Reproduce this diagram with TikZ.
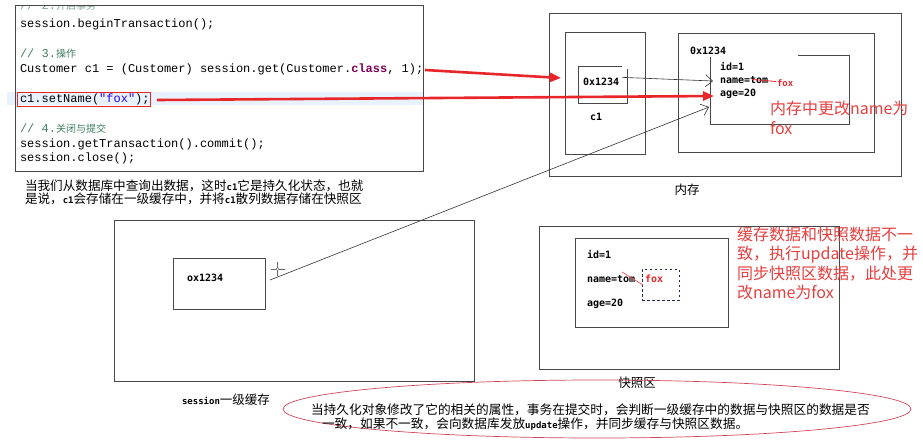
\documentclass[tikz,border=0pt]{standalone}
\usepackage{fontspec}
\setmainfont{Liberation Sans}
\setmonofont{Liberation Mono}
\newfontfamily\cjk{Noto Sans CJK SC}
\newfontfamily\pix{DejaVu Sans Mono}
\usetikzlibrary{arrows.meta}
\definecolor{boxgray}{HTML}{484848}
\definecolor{codered}{HTML}{E8262A}
\definecolor{notered}{HTML}{E5403F}
\definecolor{cmtgreen}{HTML}{3F7F5F}
\definecolor{kwpurple}{HTML}{7F0055}
\definecolor{strblue}{HTML}{2A00FF}
\definecolor{hlblue}{HTML}{E8F2FE}
\definecolor{ellred}{HTML}{D2465A}
\definecolor{dashnavy}{HTML}{1F2A5C}
\newcommand{\pixb}[1]{{\pix\bfseries\fontsize{9}{9}\selectfont #1}}
\begin{document}
\begin{tikzpicture}[x=1pt,y=-1pt,
  code/.style={anchor=base west, inner sep=0pt, outer sep=0pt, font=\ttfamily\fontsize{12}{14}\selectfont},
  pixtxt/.style={anchor=base west, inner sep=0pt, outer sep=0pt, font=\pix\bfseries\fontsize{10}{12}\selectfont},
  cjktxt/.style={anchor=base west, inner sep=0pt, outer sep=0pt, font=\cjk\fontsize{12.6}{13}\selectfont},
  note/.style={anchor=base west, inner sep=0pt, outer sep=0pt, text=notered, font=\cjk\fontsize{16}{20}\selectfont},
  frame/.style={draw=boxgray, line width=1pt, anchor=north west, inner sep=0pt, outer sep=0pt},
  openframe/.style={draw=boxgray, line width=1pt},
  bigarrow/.style={draw=codered, line width=2.6pt, -{Triangle[length=11pt,width=9pt]}},
  thinarrow/.style={draw=black!80, line width=0.6pt, -{Straight Barb[length=7pt,width=12pt]}}
]
\useasboundingbox (0,0) rectangle (923,440);
\fill[white] (0,0) rectangle (923,440);

% ---------- code panel ----------
\fill[hlblue] (7,92) rectangle (423,105);
\node (codebox) [frame, minimum width=408pt, minimum height=166pt] at (15,5) {};
\begin{scope}
\clip (15,6) rectangle (423,171);
\node[code, text=cmtgreen!70] (l0) at (20,9.5) {// 2.{\cjk\fontsize{10}{12}\selectfont 开启事务}};
\end{scope}
\node[code] (l1) at (20,27) {session.beginTransaction();};
\node[code, text=cmtgreen] (l2) at (20,57) {// 3.{\cjk\fontsize{10}{12}\selectfont 操作}};
\node[code] (l3) at (20,72) {Customer c1 = (Customer) session.get(Customer.{\bfseries\color{kwpurple}class}, 1);};
\node[code] (l4) at (20,102) {c1.setName(\textcolor{strblue}{"fox"});};
\node[code, text=cmtgreen] (l5) at (20,132) {// 4.{\cjk\fontsize{10}{12}\selectfont 关闭与提交}};
\node[code] (l6) at (20,147) {session.getTransaction().commit();};
\node[code] (l7) at (20,161) {session.close();};
\node (setbox) [draw=codered, line width=0.8pt, anchor=north west, inner sep=0pt, outer sep=0pt, minimum width=133pt, minimum height=14pt] at (17,92) {};

\node[cjktxt] (d1) at (25,190.5) {当我们从数据库中查询出数据，这时\pixb{c1}它是持久化状态，也就};
\node[cjktxt] (d2) at (25,203.5) {是说，\pixb{c1}会存储在一级缓存中，并将\pixb{c1}散列数据存储在快照区};

% ---------- memory ----------
\node (mem) [frame, minimum width=352pt, minimum height=163pt] at (549,13) {};
\node (c1box) [frame, minimum width=80pt, minimum height=122pt] at (565,32) {};
\draw[openframe] (622,66) -- (578,66) -- (578,103) -- (627,103) -- (627,69);
\node[pixtxt] (ref) at (583,85) {0x1234};
\node[pixtxt] (c1lbl) at (590,120) {c1};
\node (objbox) [frame, minimum width=196pt, minimum height=119pt] at (678,33) {};
\draw[openframe] (798,55) -- (849,55) -- (849,124) -- (710,124) -- (710,57);
\node[pixtxt] (addr) at (690,54) {0x1234};
\node[pixtxt] (mid) at (720,70) {id=1};
\node[pixtxt] (mname) at (720,83.5) {name=tom};
\node[pixtxt] (mage) at (720,96) {age=20};
\node[pixtxt, text=codered, font=\pix\bfseries\fontsize{9}{10}\selectfont] (mfox) at (777,86) {fox};
\draw[codered, line width=0.8pt] (752,79.5) -- (776,81.5);
\node[cjktxt, anchor=center, font=\cjk\fontsize{12.5}{13}\selectfont] (memlbl) at (687,190) {内存};
\node[note] (n1) at (770,114) {内存中更改name为};
\node[note] (n2) at (770,134) {fox};

% ---------- session cache ----------
\node (sess) [frame, minimum width=360pt, minimum height=161pt] at (114,220) {};
\node (sessin) [frame, minimum width=92pt, minimum height=51pt] at (173,258) {};
\node[pixtxt] (sref) at (187,281) {ox1234};
\node[cjktxt, anchor=center, font=\cjk\fontsize{12.5}{13}\selectfont] (sesslbl) at (226,400) {\pixb{session}一级缓存};
% cursor mark
\draw[black!60, line width=0.5pt] (270.5,269) -- (285,269) (277.5,262) -- (277.5,276);
\draw[black!60, line width=0.5pt, fill=white] (277.5,269) circle (1.6pt);

% ---------- snapshot ----------
\node (snap) [frame, minimum width=300pt, minimum height=143pt] at (539,226) {};
\node (snapin) [frame, minimum width=153pt, minimum height=89pt] at (575,238) {};
\node[pixtxt] (sid) at (587,258) {id=1};
\node[pixtxt] (sname) at (587,282) {name=tom};
\node[pixtxt] (sage) at (587,306) {age=20};
\node (foxbox) [draw=dashnavy, line width=0.9pt, dash pattern=on 2.5pt off 2.5pt, anchor=north west, inner sep=0pt, outer sep=0pt, minimum width=37pt, minimum height=31pt] at (642,269) {};
\node[pixtxt, text=codered] (sfox) at (645,282) {fox};
\draw[codered!80, line width=0.7pt] (622,272) -- (643,285);
\node[cjktxt, anchor=center, font=\cjk\fontsize{12.5}{13}\selectfont] (snaplbl) at (637,383) {快照区};
\node[note] (r1) at (737,240) {缓存数据和快照数据不一};
\node[note] (r2) at (737,259.5) {致，执行update操作，并};
\node[note] (r3) at (737,279) {同步快照区数据，此处更};
\node[note] (r4) at (737,298.5) {改name为fox};

% ---------- connectors ----------
\coordinate (a1s) at (425,70);
\coordinate (a1e) at (561,78);
\coordinate (a2s) at (157,100);
\coordinate (a2e) at (714,96);
\coordinate (a3e) at (713,81);
\coordinate (a4s) at (270,280);
\coordinate (a4e) at (709,107);
\draw[bigarrow] (a1s) -- (a1e);
\draw[bigarrow] (a2s) -- (a2e);
\draw[thinarrow] (ref.east) ++(3,-4) coordinate (a3s) (a3s) -- (a3e);
\draw[thinarrow] (a4s) -- (a4e);

% ---------- ellipse note ----------
\draw[ellred, line width=0.7pt] (597,409) ellipse [x radius=314pt, y radius=29pt];
\node[cjktxt, font=\cjk\fontsize{12.7}{13}\selectfont] (e1) at (311,414) {当持久化对象修改了它的相关的属性，事务在提交时，会判断一级缓存中的数据与快照区的数据是否};
\node[cjktxt, font=\cjk\fontsize{12.7}{13}\selectfont] (e2) at (322,428) {一致，如果不一致，会向数据库发放\pixb{update}操作，并同步缓存与快照区数据。};
\end{tikzpicture}
\end{document}
